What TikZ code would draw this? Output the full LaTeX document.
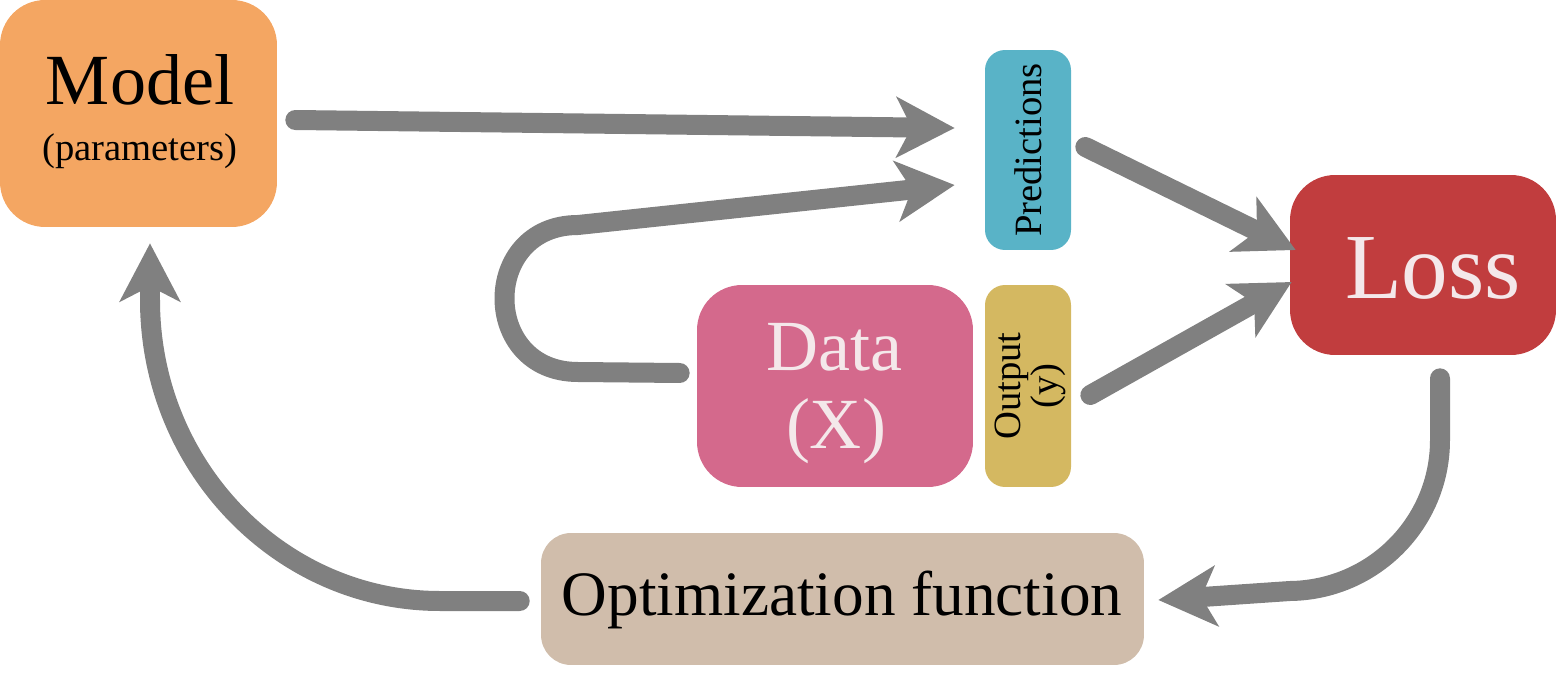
\documentclass[tikz,border=0pt]{standalone}
\usepackage{fontspec}
\setmainfont{Liberation Serif}
\usetikzlibrary{arrows.meta,calc}
\definecolor{cmodel}{HTML}{F4A662}
\definecolor{cpred}{HTML}{59B3C7}
\definecolor{closs}{HTML}{C13D3E}
\definecolor{cdata}{HTML}{D4698C}
\definecolor{cout}{HTML}{D4B861}
\definecolor{copt}{HTML}{D0BDAB}
\definecolor{cgray}{HTML}{808080}
\definecolor{clight}{HTML}{F4E8EA}
\begin{document}
\begin{tikzpicture}[x=0.02cm,y=-0.02cm,
  box/.style={draw=none,inner sep=0pt,rounded corners=0.9cm},
  slim/.style={box,rounded corners=0.4cm,minimum width=1.72cm},
  conn/.style={draw=cgray,line width=0.4cm,line cap=round,
    -{Stealth[length=1.16cm,width=1.2cm,inset=0.3cm]}},
  txt/.style={inner sep=0pt,anchor=base}]
\useasboundingbox (0,0) rectangle (1556,686);
% boxes
\node[box,fill=cmodel,minimum width=5.54cm,minimum height=4.54cm] (model) at (138.5,113.5) {};
\node[slim,fill=cpred,minimum height=4.0cm] (pred) at (1028,150) {};
\node[box,fill=closs,minimum width=5.32cm,minimum height=3.6cm] (loss) at (1423,265) {};
\node[box,fill=cdata,minimum width=5.52cm,minimum height=4.04cm] (data) at (835,386) {};
\node[slim,fill=cout,minimum height=4.04cm] (out) at (1028,386) {};
\node[box,fill=copt,rounded corners=0.6cm,minimum width=12.06cm,minimum height=2.64cm] (opt) at (842.5,599) {};
% texts
\node[txt,font=\fontsize{41}{45}\selectfont] (modelT) at (140,105) {Model};
\node[txt,font=\fontsize{22}{24}\selectfont] (modelP) at (140,161) {(parameters)};
\node[txt,font=\fontsize{53}{58}\selectfont,text=clight] (lossT) at (1433,298) {Loss};
\node[txt,font=\fontsize{41}{45}\selectfont,text=clight] (dataT) at (834,370) {Data};
\node[txt,font=\fontsize{41}{45}\selectfont,text=clight] (dataX) at (836,448) {(X)};
\node[txt,font=\fontsize{36}{40}\selectfont] (optT) at (842,615) {Optimization function};
\node[inner sep=0pt,rotate=90,font=\fontsize{22}{24}\selectfont] (predT) at (1028,150) {Predictions};
\node[inner sep=0pt,rotate=90,align=center,font=\fontsize{22}{21}\selectfont] (outT) at (1030,386) {Output\\(y)};
% connectors
\coordinate (a1s) at ($(model.east)+(18,6.5)$);
\coordinate (a1e) at ($(pred.west)+(-30,-22)$);
\draw[conn] (a1s) -- (a1e);
\coordinate (a2s) at ($(data.west)+(-17,-13)$);
\coordinate (a2e) at ($(pred.west)+(-30,35)$);
\draw[conn] (a2s) -- (578,372) .. controls (480,372) and (480,225) .. (578,225) -- (a2e);
\coordinate (a3s) at ($(pred.east)+(14,-3)$);
\coordinate (a3e) at ($(loss.west)+(6,-15)$);
\draw[conn] (a3s) -- (a3e);
\coordinate (a4s) at ($(out.east)+(19,9)$);
\coordinate (a4e) at ($(loss.west)+(2,17)$);
\draw[conn] (a4s) -- (a4e);
\coordinate (a5s) at ($(loss.south)+(17,23)$);
\coordinate (a5e) at ($(opt.east)+(14,1)$);
\draw[conn] (a5s) -- (1440,440) .. controls (1440,523) and (1373,590) .. (1290,591) -- (a5e);
\coordinate (a6s) at ($(opt.west)+(-21,2)$);
\coordinate (a6e) at ($(model.south)+(11.5,16)$);
\draw[conn] (a6s) -- (440,601) .. controls (280,601) and (150,466) .. (150,300) -- (a6e);
\end{tikzpicture}
\end{document}
